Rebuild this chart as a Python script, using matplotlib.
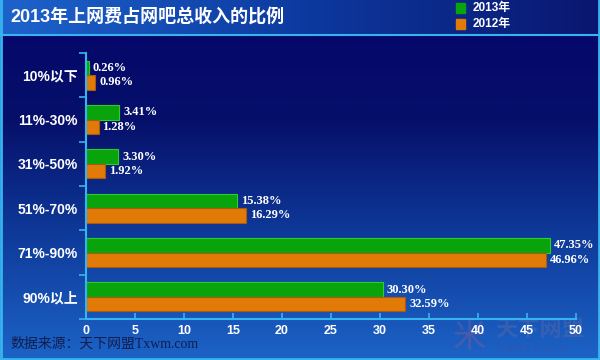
import numpy as np
import matplotlib.pyplot as plt
from matplotlib.colors import LinearSegmentedColormap

plt.rcParams['font.family'] = ['Liberation Sans', 'Noto Sans CJK SC', 'DejaVu Sans']

# data
categories = ['10%以下', '11%-30%', '31%-50%', '51%-70%', '71%-90%', '90%以上']
values_2013 = [0.26, 3.41, 3.30, 15.38, 47.35, 30.30]
values_2012 = [0.96, 1.28, 1.92, 16.29, 46.96, 32.59]
series_names = ['2013年', '2012年']
xticks = list(range(0, 55, 5))

green = '#09a30c'
orange = '#e17a06'
axis_col = '#37b4ef'

fig = plt.figure(figsize=(6, 3.6), dpi=100)

# background: main vertical gradient
bg = fig.add_axes([0, 0, 1, 1])
bg.set_axis_off()
main_cmap = LinearSegmentedColormap.from_list('m', ['#1c63c6', '#0f3c9c', '#06106a', '#05056a'])
grad = np.linspace(0, 1, 256).reshape(-1, 1)
bg.imshow(grad, aspect='auto', cmap=main_cmap, extent=[0, 1, 0, 1], origin='lower')
# title band horizontal gradient
band_cmap = LinearSegmentedColormap.from_list('b', ['#1d63cc', '#0d3aa0', '#0a1670'])
hgrad = np.linspace(0, 1, 256).reshape(1, -1)
bg.imshow(hgrad, aspect='auto', cmap=band_cmap, extent=[0, 1, 1 - 34 / 360, 1])
bg.set_xlim(0, 1)
bg.set_ylim(0, 1)
bg.axhline(1 - 35 / 360, color=axis_col, lw=1.5)
bg.axvline(0.002, color=axis_col, lw=2)
bg.axvline(0.998, color=axis_col, lw=2)
bg.axhline(0.002, color=axis_col, lw=2)

fig.text(0.017, 1 - 17 / 360, '2013年上网费占网吧总收入的比例', color='white',
         fontsize=13, fontweight='bold', va='center', ha='left')

# legend
for i, (name, col) in enumerate(zip(series_names, [green, orange])):
    yc = 1 - (8 + 16 * i) / 360
    fig.patches.append(plt.Rectangle((456 / 600, yc - 4.5 / 360), 9 / 600, 9 / 360,
                                     transform=fig.transFigure, color=col, figure=fig))
    fig.text(473 / 600, yc, name, color='white', fontsize=8.5, fontweight='bold',
             va='center', ha='left')

# watermark (faint, behind the axis)
bg.text(495 / 600, 1 - 331 / 360, '天下网盟', color='#5a68a8', alpha=0.45, fontsize=16,
        fontweight='bold', va='center', ha='left')
bg.text(497 / 600, 1 - 349 / 360, '中 国 网 吧 行 业 门 户', color='#3e50a0', alpha=0.6,
        fontsize=5, va='center', ha='left')
bg.text(453 / 600, 1 - 338 / 360, '米', color='#a05a8a', alpha=0.35, fontsize=24,
        va='center', ha='left')

# footer
fig.text(0.017, 1 - 344 / 360, '数据来源：天下网盟Txwm.com', color='#101e50',
         fontsize=10, va='center', ha='left',
         family=['Liberation Serif', 'Noto Sans CJK SC'])

ax = fig.add_axes([86 / 600, 1 - 319 / 360, 490 / 600, 266 / 360])
ax.patch.set_alpha(0)

n = len(categories)
y = np.arange(n)[::-1].astype(float)
h = 0.33
ax.barh(y + h / 2, values_2013, height=h, color=green, edgecolor='#2ccf2a', lw=0.8)
ax.barh(y - h / 2, values_2012, height=h, color=orange, edgecolor='#a85a10', lw=0.8)

for yi, v1, v2 in zip(y, values_2013, values_2012):
    ax.text(v1 + 0.4, yi + h / 2, f'{v1:.2f}%', color='white', fontsize=9, fontweight='bold',
            va='center', ha='left', family='Liberation Serif')
    ax.text(v2 + 0.4, yi - h / 2, f'{v2:.2f}%', color='white', fontsize=9, fontweight='bold',
            va='center', ha='left', family='Liberation Serif')

ax.set_xlim(0, 50)
ax.set_ylim(-0.5, n - 0.5)
ax.set_xticks(xticks)
ax.set_xticklabels([str(t) for t in xticks], color='white', fontsize=9, fontweight='bold')
ax.tick_params(axis='x', direction='in', length=4, color=axis_col, width=1.2, pad=4)

ax.set_yticks(y)
ax.set_yticklabels(categories, color='white', fontsize=10, fontweight='bold')
ax.set_yticks(np.arange(-0.5, n, 1.0), minor=True)
ax.tick_params(axis='y', which='major', length=0, pad=6)
ax.tick_params(axis='y', which='minor', direction='out', length=5, color=axis_col, width=1.2)

for s in ['top', 'right']:
    ax.spines[s].set_visible(False)
for s in ['left', 'bottom']:
    ax.spines[s].set_color(axis_col)
    ax.spines[s].set_linewidth(1.5)

fig.savefig('out.png', dpi=100)
